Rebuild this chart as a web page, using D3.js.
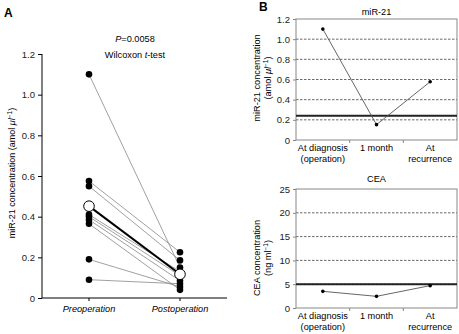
<!DOCTYPE html>
<html>
<head>
<meta charset="utf-8">
<script src="https://cdn.jsdelivr.net/npm/d3@7"></script>
<style>
  body { margin: 0; background: #fff; }
  svg { font-family: "Liberation Sans", Arial, sans-serif; }
</style>
</head>
<body>
<div id="chart"></div>
<script>
// Panel A: paired patients, pre vs post operation (amol/ul)
const groups = ["Preoperation", "Postoperation"];
const preValues = [1.10, 0.575, 0.55, 0.41, 0.40, 0.385, 0.365, 0.19, 0.09];
const postValues = [0.15, 0.225, 0.185, 0.13, 0.11, 0.085, 0.04, 0.055, 0.07];
const yTicksA = [0, 0.2, 0.4, 0.6, 0.8, 1.0, 1.2];

// Panel B: single patient follow-up
const timepoints = [["At diagnosis", "(operation)"], ["1 month"], ["At", "recurrence"]];
const timeKeys = ["diag", "1m", "rec"];
const mirValues = [1.10, 0.152, 0.578];
const mirCutoff = 0.241;
const mirTicks = [0, 0.2, 0.4, 0.6, 0.8, 1.0, 1.2];
const ceaValues = [3.5, 2.45, 4.7];
const ceaCutoff = 5;
const ceaTicks = [0, 5, 10, 15, 20, 25];

const width = 459, height = 334;
const tickFont = "9.5px", labFont = "9.2px";

const svg = d3.select("#chart").append("svg")
    .attr("width", width)
    .attr("height", height);

// ---------- Panel A ----------
const yA = d3.scaleLinear().domain([0, 1.2]).range([298, 54]);
const xA = d3.scalePoint().domain(groups).range([89, 180]);

svg.append("text").attr("x", 4).attr("y", 17)
    .style("font-weight", "bold").style("font-size", "12px").text("A");

const axA = svg.append("g").attr("transform", "translate(42,0)")
    .call(d3.axisLeft(yA).tickValues(yTicksA).tickSize(4)
        .tickFormat(d => d === 0 ? "0" : d3.format(".1f")(d)));
axA.select(".domain").attr("d", `M0,${yA(1.2)}V${yA(0)}`);
axA.selectAll("text").style("font-size", tickFont).attr("fill", "#222");

svg.append("line").attr("x1", 42).attr("x2", 227)
    .attr("y1", yA(0)).attr("y2", yA(0)).attr("stroke", "#000");
svg.selectAll(".xtickA").data(groups).join("line")
    .attr("x1", d => xA(d)).attr("x2", d => xA(d))
    .attr("y1", yA(0)).attr("y2", yA(0) + 3).attr("stroke", "#000");
svg.selectAll(".xlabA").data(groups).join("text")
    .attr("x", d => xA(d)).attr("y", 312)
    .attr("text-anchor", "middle").style("font-size", labFont)
    .style("font-style", "italic").text(d => d);

const yLabA = svg.append("text")
    .attr("transform", `translate(15,173) rotate(-90)`)
    .attr("text-anchor", "middle").style("font-size", "9px");
yLabA.append("tspan").text("miR-21 concentration (amol ");
yLabA.append("tspan").style("font-style", "italic").text("μl");
yLabA.append("tspan").attr("dy", -3).style("font-size", "6.5px").text("−1");
yLabA.append("tspan").attr("dy", 3).text(")");

const pText = svg.append("text").attr("x", 135).attr("y", 42)
    .attr("text-anchor", "middle").style("font-size", labFont);
pText.append("tspan").style("font-style", "italic").text("P");
pText.append("tspan").text("=0.0058");
const wText = svg.append("text").attr("x", 135).attr("y", 58)
    .attr("text-anchor", "middle").style("font-size", labFont);
wText.append("tspan").text("Wilcoxon ");
wText.append("tspan").style("font-style", "italic").text("t");
wText.append("tspan").text("-test");

const pairs = preValues.map((v, i) => [v, postValues[i]]);
svg.selectAll(".pair").data(pairs).join("line")
    .attr("x1", xA(groups[0])).attr("x2", xA(groups[1]))
    .attr("y1", d => yA(d[0])).attr("y2", d => yA(d[1]))
    .attr("stroke", "#888").attr("stroke-width", 0.8);

const meanPre = d3.mean(preValues), meanPost = d3.mean(postValues);
svg.append("line")
    .attr("x1", xA(groups[0])).attr("x2", xA(groups[1]))
    .attr("y1", yA(meanPre)).attr("y2", yA(meanPost))
    .attr("stroke", "#000").attr("stroke-width", 2);

svg.selectAll(".dotPre").data(preValues).join("circle")
    .attr("cx", xA(groups[0])).attr("cy", d => yA(d)).attr("r", 3.3).attr("fill", "#000");
svg.selectAll(".dotPost").data(postValues).join("circle")
    .attr("cx", xA(groups[1])).attr("cy", d => yA(d)).attr("r", 3.3).attr("fill", "#000");
svg.selectAll(".meanDot").data([[groups[0], meanPre], [groups[1], meanPost]]).join("circle")
    .attr("cx", d => xA(d[0])).attr("cy", d => yA(d[1])).attr("r", 5.3)
    .attr("fill", "#fff").attr("stroke", "#000").attr("stroke-width", 1);

// ---------- Panel B ----------
svg.append("text").attr("x", 259).attr("y", 11)
    .style("font-weight", "bold").style("font-size", "12px").text("B");

function drawPanel({ top, bottom, domainMax, ticks, values, cutoff, title, titleY, labelLines, labelY, unit, tickFmt }) {
    const left = 296, right = 457;
    const y = d3.scaleLinear().domain([0, domainMax]).range([bottom, top]);
    const x = d3.scaleBand().domain(timeKeys).range([left, right]);
    const g = svg.append("g");

    // dashed grid
    g.selectAll(".grid").data(ticks.filter(t => t > 0 && t < domainMax)).join("line")
        .attr("x1", left).attr("x2", right)
        .attr("y1", d => y(d)).attr("y2", d => y(d))
        .attr("stroke", "#444").attr("stroke-width", 0.8).attr("stroke-dasharray", "2.5,1.5");

    // frame
    g.append("rect").attr("x", left).attr("y", top)
        .attr("width", right - left).attr("height", bottom - top)
        .attr("fill", "none").attr("stroke", "#888").attr("stroke-width", 1);

    // cutoff
    g.append("line").attr("x1", left).attr("x2", right)
        .attr("y1", y(cutoff)).attr("y2", y(cutoff))
        .attr("stroke", "#222").attr("stroke-width", 2);

    // ticks at band edges
    g.selectAll(".bt").data(timeKeys.slice(1)).join("line")
        .attr("x1", d => x(d)).attr("x2", d => x(d))
        .attr("y1", bottom).attr("y2", bottom + 3).attr("stroke", "#888");

    const ax = g.append("g").attr("transform", `translate(${left},0)`)
        .call(d3.axisLeft(y).tickValues(ticks).tickSize(3).tickPadding(3).tickFormat(tickFmt));
    ax.select(".domain").remove();
    ax.selectAll(".tick line").attr("stroke", "#888");
    ax.selectAll("text").style("font-size", tickFont).attr("fill", "#222");

    // series
    const cx = k => x(k) + x.bandwidth() / 2;
    const line = d3.line().x((d, i) => cx(timeKeys[i])).y(d => y(d));
    g.append("path").datum(values).attr("d", line)
        .attr("fill", "none").attr("stroke", "#555").attr("stroke-width", 0.9);
    g.selectAll(".pt").data(values).join("circle")
        .attr("cx", (d, i) => cx(timeKeys[i])).attr("cy", d => y(d))
        .attr("r", 1.8).attr("fill", "#000");

    // x labels
    timepoints.forEach((lines, i) => {
        const t = g.append("text").attr("x", cx(timeKeys[i])).attr("y", bottom + 11)
            .attr("text-anchor", "middle").style("font-size", labFont);
        lines.forEach((s, j) => t.append("tspan").attr("x", cx(timeKeys[i]))
            .attr("dy", j === 0 ? 0 : 11).text(s));
    });

    g.append("text").attr("x", (left + right) / 2).attr("y", titleY)
        .attr("text-anchor", "middle").style("font-size", labFont).text(title);

    // y label (two lines)
    g.append("text").attr("transform", `translate(260,${labelY}) rotate(-90)`)
        .attr("text-anchor", "middle").style("font-size", labFont).text(labelLines);
    const u = g.append("text").attr("transform", `translate(271,${labelY}) rotate(-90)`)
        .attr("text-anchor", "middle").style("font-size", labFont);
    unit(u);
}

drawPanel({
    top: 19, bottom: 140, domainMax: 1.2, ticks: mirTicks, values: mirValues, cutoff: mirCutoff,
    title: "miR-21", titleY: 15, labelLines: "miR-21 concentration", labelY: 78,
    tickFmt: d => d === 0 ? "0" : d3.format(".1f")(d),
    unit: t => {
        t.append("tspan").text("(amol ");
        t.append("tspan").style("font-style", "italic").text("μl");
        t.append("tspan").attr("dy", -3).style("font-size", "6.5px").text("−1");
        t.append("tspan").attr("dy", 3).text(")");
    }
});

drawPanel({
    top: 189, bottom: 308, domainMax: 25, ticks: ceaTicks, values: ceaValues, cutoff: ceaCutoff,
    title: "CEA", titleY: 182, labelLines: "CEA concentration", labelY: 258,
    tickFmt: d => d,
    unit: t => {
        t.append("tspan").text("(ng ml");
        t.append("tspan").attr("dy", -3).style("font-size", "6.5px").text("−1");
        t.append("tspan").attr("dy", 3).text(")");
    }
});
</script>
</body>
</html>
